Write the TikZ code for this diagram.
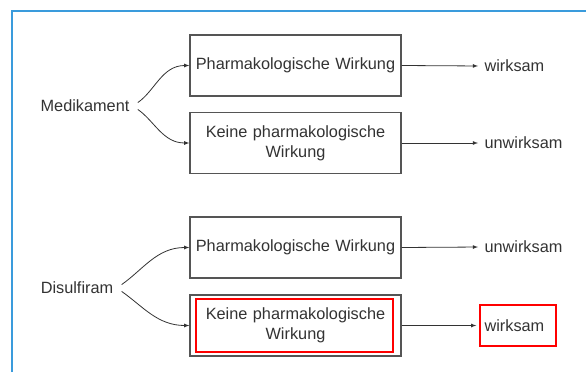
\documentclass[tikz,border=0pt]{standalone}
\usepackage{fontspec}
\setmainfont{Liberation Sans}
\definecolor{framebl}{HTML}{3A9BDC}
\definecolor{ink}{HTML}{333333}
\definecolor{boxgr}{HTML}{555555}
\begin{document}
\begin{tikzpicture}[x=1pt,y=-1pt,
  every node/.style={font=\fontsize{16.3}{19.8}\selectfont,text=ink},
  box/.style={draw=boxgr,line width=1.3pt,minimum width=211pt,minimum height=61pt,
    text width=200pt,align=center,inner sep=0pt},
  branch/.style={draw=ink,line width=0.8pt,->,>=latex,shorten <=6pt},
  result/.style={draw=ink,line width=0.8pt,->,>=latex,shorten >=3pt},
  redbox/.style={draw=red,line width=1.5pt,inner sep=0pt}]
\useasboundingbox (0,0) rectangle (586,372);
\fill[white] (0,0) rectangle (586,372);
\draw[framebl,line width=2pt] (12,372) -- (12,11) -- (586,11);

\node (med) at (85,106) {Medikament};
\node (dis) at (77,288) {Disulfiram};

\node[box] (b1) at (295.5,65.5) {Pharmakologische Wirkung};
\node[box] (b2) at (295.5,143) {Keine pharmakologische\\Wirkung};
\node[box] (b3) at (295.5,247.5) {Pharmakologische Wirkung};
\node[box] (b4) at (295.5,325.5) {Keine pharmakologische\\Wirkung};
\node[redbox,minimum width=197pt,minimum height=53pt] (h1) at (294.5,325.5) {};

\node[anchor=west] (r1) at (481,66) {wirksam};
\node[anchor=west] (r2) at (481,143) {unwirksam};
\node[anchor=west] (r3) at (481,247) {unwirksam};
\node[anchor=west] (r4) at (481,325.5) {wirksam};
\node[redbox,minimum width=76pt,minimum height=41pt] (h2) at (518,325.5) {};

\path[branch] (med.east) to[out=35,in=180] (b1.west);
\path[branch] (med.east) to[out=-35,in=180] (b2.west);
\path[branch] (dis.east) to[out=35,in=180] (b3.west);
\path[branch] (dis.east) to[out=-35,in=180] (b4.west);

\path[result] (b1.east) -- (r1.west);
\path[result] (b2.east) -- (r2.west);
\path[result] (b3.east) -- (r3.west);
\path[result] (b4.east) -- (h2.west);
\end{tikzpicture}
\end{document}
